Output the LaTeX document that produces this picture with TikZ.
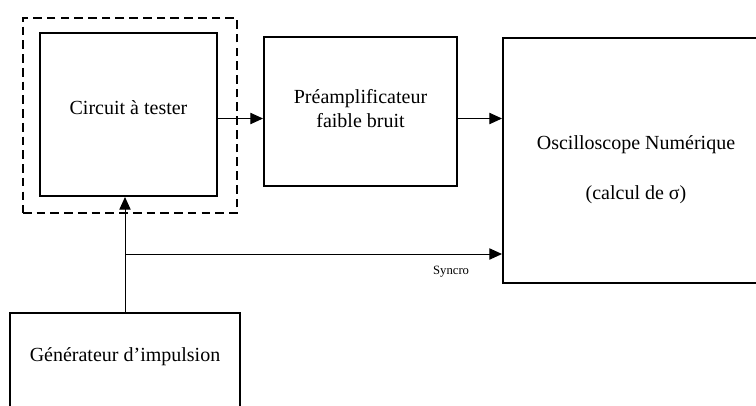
\documentclass[tikz,border=0pt]{standalone}
\usepackage{fontspec}
\setmainfont{Liberation Serif}
\usetikzlibrary{arrows.meta, calc}
\tikzset{
    block/.style={draw,line width=1.5pt,inner sep=0pt,align=center,
        font=\fontsize{15}{18}\selectfont},
    frame/.style={draw,line width=1.4pt,dash pattern=on 6.5pt off 3.8pt,inner sep=0pt},
    conn/.style={-{Triangle[length=9.5pt,width=8.5pt]},line width=0.75pt},
    tag/.style={font=\fontsize{15}{18}\selectfont},
    small/.style={font=\fontsize{9.5}{11}\selectfont}
}
\begin{document}
\begin{tikzpicture}[x=0.75pt,y=-0.75pt]
    \useasboundingbox (0,0) rectangle (756,405);
    \node[frame, minimum width=160.5pt, minimum height=146.25pt] (dut) at (130,115.5) {};
    \node[block, minimum width=132.75pt, minimum height=122.25pt] (circuit) at (128.5,114.5) {Circuit à tester\\[-8pt]};
    \node[block, minimum width=144.75pt, minimum height=111.75pt] (preampli) at (360.5,111.5) {Préamplificateur\\faible bruit\\[-13.5pt]};
    \node[block, minimum width=199.5pt, minimum height=183.75pt] (oscillo) at (636,160.5) {Oscilloscope Numérique\\[20pt](calcul de σ)\\[-28.5pt]};
    \node[block, minimum width=172.5pt, minimum height=84pt] (generateur) at (125,369) {};
    \node[tag] (genlabel) at (125,357) {Générateur d’impulsion};
    \coordinate (row) at (0,118.5);
    \coordinate (tap) at (generateur.north |- 0,254);
    \draw[conn] (circuit.east |- row) -- (preampli.west |- row);
    \draw[conn] (preampli.east |- row) -- (oscillo.west |- row);
    \draw[conn] (generateur.north) -- (generateur.north |- circuit.south);
    \draw[conn] (tap) -- (tap -| oscillo.west) node[small, pos=0.865, below=5pt] (syncro) {Syncro};
\end{tikzpicture}
\end{document}
